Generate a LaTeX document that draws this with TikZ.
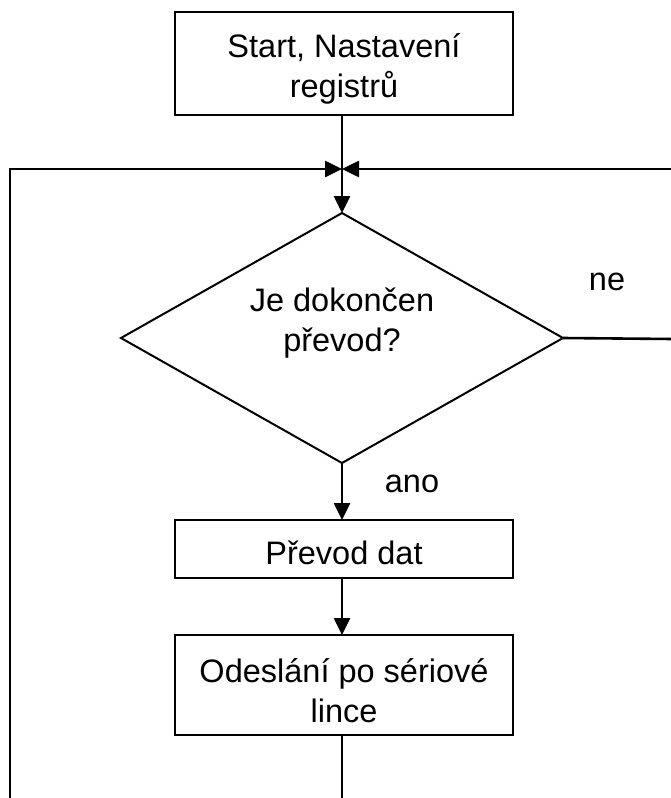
\documentclass[tikz,border=0pt]{standalone}
\usepackage{fontspec}
\setmainfont{Liberation Sans}
\usetikzlibrary{shapes.geometric,arrows.meta}
\begin{document}
\begin{tikzpicture}[x=1pt,y=-1pt,
  box/.style={draw,line width=2.6pt,minimum width=338pt,inner sep=0pt,outer sep=0pt},
  dia/.style={draw,diamond,line width=2pt,minimum width=442pt,minimum height=250pt,inner sep=0pt,outer sep=0pt},
  txt/.style={align=center,inner sep=0pt,font=\fontsize{32.5}{40}\selectfont},
  conn/.style={line width=2.6pt},
  arr/.style={line width=2.6pt,-{Triangle[length=17pt,width=16pt]}}]
\useasboundingbox (0,0) rectangle (671,798);
\node[box,minimum height=103pt] (start) at (344,63.5) {};
\node[txt] (startt) at (344,69) {Start, Nastavení\\registrů};
\coordinate (j) at (342,169);
\node[dia] (d) at (342,338) {};
\node[txt] (dt) at (342,323) {Je dokončen\\převod?};
\node[box,minimum height=58pt] (prevod) at (344,549) {};
\node[txt] (prevodt) at (344,553) {Převod dat};
\node[box,minimum height=100pt] (odes) at (344,685) {};
\node[txt] (odest) at (344,691) {Odeslání po sériové\\lince};
\coordinate (lt) at (10,169);
\coordinate (lb) at (10,800);
\coordinate (rt) at (673,169);
\coordinate (re) at (673,339);
\coordinate (bb) at (342,800);
\draw[conn] (start.south -| j) -- (j);
\draw[arr] (j) -- (d.north);
\draw[arr] (lb) -- (lt) -- (j);
\draw[arr] (rt) -- (j);
\draw[conn] (d.east) -- (re);
\draw[arr] (d.south) -- (prevod.north -| d.south);
\draw[arr] (prevod.south -| d.south) -- (odes.north -| d.south);
\draw[conn] (odes.south -| d.south) -- (bb);
\node[txt] (ne) at (607,282) {ne};
\node[txt] (ano) at (412,484) {ano};
\end{tikzpicture}
\end{document}
